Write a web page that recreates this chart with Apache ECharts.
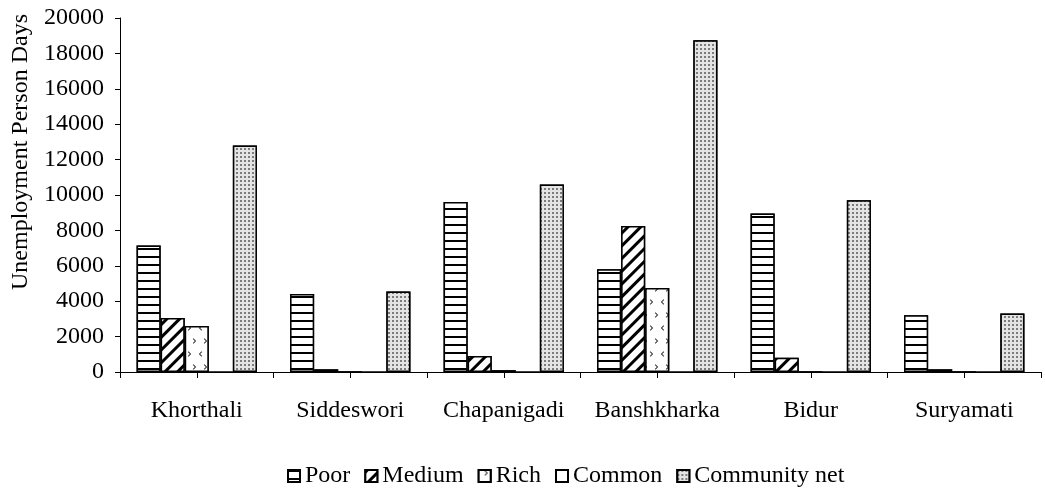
<!DOCTYPE html>
<html>
<head>
<meta charset="utf-8">
<script src="https://cdn.jsdelivr.net/npm/echarts@6/dist/echarts.min.js"></script>
<style>
  html, body { margin: 0; padding: 0; background: #fff; }
  #main { width: 1045px; height: 491px; }
</style>
</head>
<body>
<div id="main"></div>
<script>
// 数据
var districts = ['Khorthali', 'Siddeswori', 'Chapanigadi', 'Banshkharka', 'Bidur', 'Suryamati'];
var poor = [7150, 4400, 9600, 5800, 8950, 3200];
var medium = [3050, 150, 900, 8250, 800, 150];
var rich = [2600, 0, 100, 4750, 0, 0];
var common = [0, 0, 0, 0, 0, 0];
var communityNet = [12800, 4550, 10600, 18750, 9700, 3300];
var yTicks = [0, 2000, 4000, 6000, 8000, 10000, 12000, 14000, 16000, 18000, 20000];

var font = '"Liberation Serif", "Times New Roman", serif';

// 每个系列的填充图案
var patterns = {
	poor: { symbol: 'rect', symbolSize: 1, dashArrayX: [1, 0], dashArrayY: [2, 5.7], color: '#000', backgroundColor: '#fff' },
	medium: { symbol: 'rect', symbolSize: 1, dashArrayX: [1, 0], dashArrayY: [3, 6], rotation: -Math.PI / 4, color: '#000', backgroundColor: '#fff' },
	rich: {
		symbol: ['path://M4,0L0,4L4,8L5,7L2,4L5,1Z', 'path://M1,0L5,4L1,8L0,7L3,4L0,1Z'],
		symbolSize: 0.9,
		dashArrayX: [[5, 6], [0, 5, 5, 1]],
		dashArrayY: [6, 7],
		color: '#333',
		backgroundColor: '#fff'
	},
	common: null,
	community: { symbol: 'circle', symbolSize: 1, dashArrayX: [1.6, 1.3], dashArrayY: [1.6, 1.3], color: '#5a5a5a', backgroundColor: '#e4e4e4' }
};

function makeBar(name, data, decal) {
	var style = { color: '#fff', borderColor: '#000', borderWidth: 1.5 };
	if (decal) {
		style.decal = decal;
	}
	return {
		name: name,
		type: 'bar',
		xAxisIndex: 0,
		data: data,
		barGap: 0,
		barCategoryGap: '21.6%',
		itemStyle: style,
		emphasis: { disabled: true }
	};
}

var chart = echarts.init(document.getElementById('main'), null, { renderer: 'canvas' });

chart.setOption({
	animation: false,
	backgroundColor: '#fff',
	textStyle: { fontFamily: font, color: '#000' },
	grid: {
		left: 120,
		right: 4,
		top: 18,
		bottom: 119,
		outerBoundsMode: 'none',
		containLabel: false
	},
	legend: {
		top: 459,
		left: 282,
		icon: 'rect',
		itemWidth: 12,
		itemHeight: 12,
		itemGap: 14,
		textStyle: { fontFamily: font, fontSize: 24, color: '#000' },
		data: ['Poor', 'Medium', 'Rich', 'Common', 'Community net']
	},
	xAxis: [{
		type: 'category',
		data: districts,
		axisLine: { lineStyle: { color: '#000', width: 1 } },
		axisTick: { show: false },
		axisLabel: { interval: 0, margin: 27, fontFamily: font, fontSize: 24, color: '#000' },
		splitLine: { show: false }
	}, {
		// 只用来画刻度线：每组中间和两边各一根
		type: 'category',
		position: 'bottom',
		data: ['', '', '', '', '', '', '', '', '', '', '', ''],
		axisLine: { show: false },
		axisTick: { show: true, interval: 0, length: 6, lineStyle: { color: '#000', width: 1 } },
		axisLabel: { show: false },
		splitLine: { show: false }
	}],
	yAxis: {
		type: 'value',
		min: yTicks[0],
		max: yTicks[yTicks.length - 1],
		interval: 2000,
		name: 'Unemployment Person Days',
		nameLocation: 'middle',
		nameGap: 87,
		nameTextStyle: { fontFamily: font, fontSize: 24, color: '#000', padding: [0, 0, 0, 86] },
		axisLine: { show: true, lineStyle: { color: '#000', width: 1 } },
		axisTick: { show: true, length: 5, lineStyle: { color: '#000' } },
		axisLabel: {
			margin: 16, fontFamily: font, fontSize: 24, color: '#000',
			formatter: function(v) { return String(v); }
		},
		splitLine: { show: false }
	},
	series: [
		makeBar('Poor', poor, patterns.poor),
		makeBar('Medium', medium, patterns.medium),
		makeBar('Rich', rich, patterns.rich),
		makeBar('Common', common, patterns.common),
		makeBar('Community net', communityNet, patterns.community)
	]
});
</script>
</body>
</html>
